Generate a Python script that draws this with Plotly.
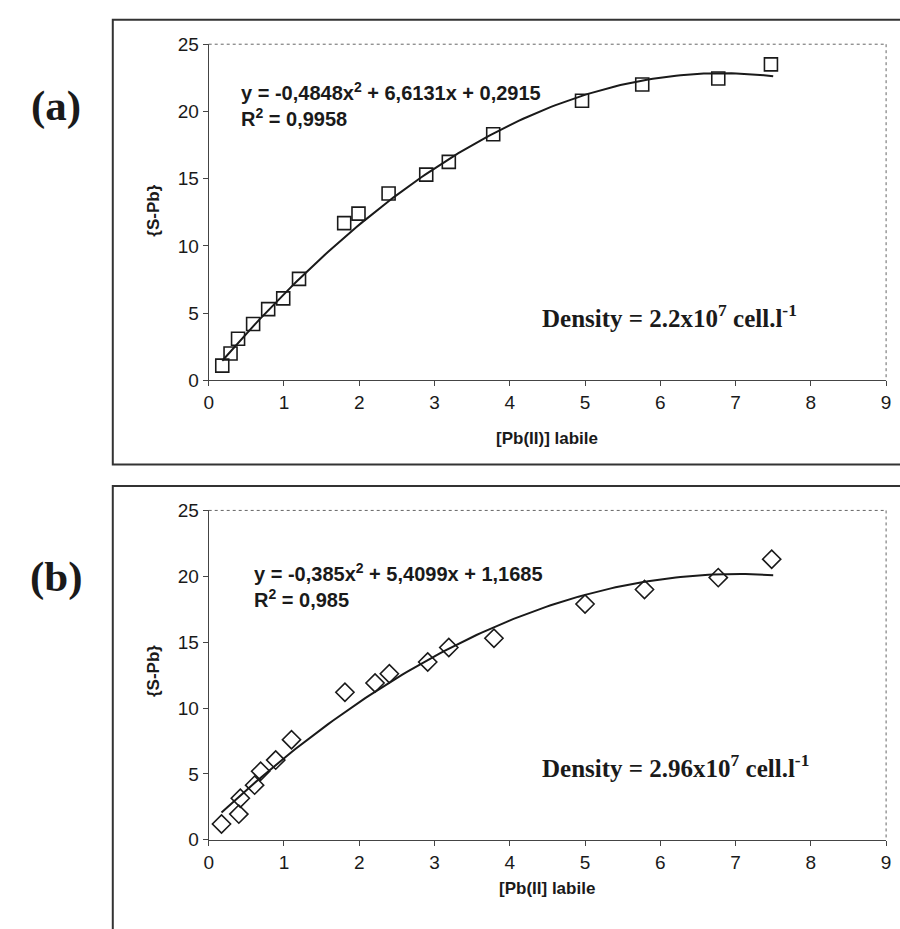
import plotly.graph_objects as go
import numpy as np

# ---------------- data ----------------
xa = [0.18, 0.29, 0.39, 0.59, 0.79, 0.99, 1.20, 1.80, 1.99, 2.39, 2.89, 3.19, 3.78, 4.96, 5.76, 6.77, 7.47]
ya = [1.1, 2.0, 3.1, 4.2, 5.3, 6.1, 7.55, 11.7, 12.4, 13.9, 15.3, 16.25, 18.3, 20.8, 22.0, 22.45, 23.5]
coef_a = [-0.4848, 6.6131, 0.2915]

xb = [0.17, 0.40, 0.42, 0.61, 0.69, 0.89, 1.10, 1.81, 2.21, 2.40, 2.91, 3.19, 3.79, 5.0, 5.79, 6.77, 7.48]
yb = [1.2, 1.95, 3.15, 4.15, 5.2, 6.05, 7.6, 11.2, 11.9, 12.6, 13.5, 14.6, 15.3, 17.9, 19.0, 19.9, 21.3]
coef_b = [-0.385, 5.4099, 1.1685]

x_ticks = [0, 1, 2, 3, 4, 5, 6, 7, 8, 9]
y_ticks = [0, 5, 10, 15, 20, 25]

eq_a = "y = -0,4848x<sup>2</sup> + 6,6131x + 0,2915<br>R<sup>2</sup> = 0,9958"
eq_b = "y = -0,385x<sup>2</sup> + 5,4099x + 1,1685<br>R<sup>2</sup> = 0,985"
dens_a = "Density = 2.2x10<sup>7</sup> cell.l<sup>-1</sup>"
dens_b = "Density = 2.96x10<sup>7</sup> cell.l<sup>-1</sup>"
xtitle_a = "[Pb(II)] labile"
xtitle_b = "[Pb(II] labile"
ytitle = "{S-Pb}"

# ---------------- figure ----------------
W, H = 900, 929
def px(x):
    return x / W
def py(y):
    return 1 - y / H

fig = go.Figure()

ink = "#1a1a1a"

def fit_curve(coef, x0, x1):
    xs = np.linspace(x0, x1, 120)
    return xs, np.polyval(coef, xs)

cxa, cya = fit_curve(coef_a, min(xa), 7.5)
cxb, cyb = fit_curve(coef_b, min(xb), 7.5)

fig.add_trace(go.Scatter(x=cxa, y=cya, mode="lines", line=dict(color=ink, width=2),
                         xaxis="x", yaxis="y", hoverinfo="skip"))
fig.add_trace(go.Scatter(x=xa, y=ya, mode="markers",
                         marker=dict(symbol="square-open", size=13, color=ink, line=dict(width=1.6, color=ink)),
                         xaxis="x", yaxis="y"))
fig.add_trace(go.Scatter(x=cxb, y=cyb, mode="lines", line=dict(color=ink, width=2),
                         xaxis="x2", yaxis="y2", hoverinfo="skip"))
fig.add_trace(go.Scatter(x=xb, y=yb, mode="markers",
                         marker=dict(symbol="diamond-open", size=14, color=ink, line=dict(width=1.6, color=ink)),
                         xaxis="x2", yaxis="y2"))

left, right = 206, 891
top_a, bot_a = 35, 379
top_b, bot_b = 512, 849

axis_common = dict(
    showgrid=False, zeroline=False, showline=True, linecolor="#444", linewidth=1,
    ticks="outside", ticklen=5, tickcolor="#444", tickwidth=1,
    tickfont=dict(family="Liberation Sans, Arial", size=19, color=ink),
)

fig.update_layout(
    width=W, height=H, margin=dict(l=0, r=0, t=0, b=0),
    paper_bgcolor="white", plot_bgcolor="white", showlegend=False,
    xaxis=dict(domain=[px(left), px(right)], range=[0, 9], tickvals=x_ticks, anchor="y", **axis_common),
    yaxis=dict(domain=[py(bot_a), py(top_a)], range=[0, 25], tickvals=y_ticks, anchor="x", **axis_common),
    xaxis2=dict(domain=[px(left), px(right)], range=[0, 9], tickvals=x_ticks, anchor="y2", **axis_common),
    yaxis2=dict(domain=[py(bot_b), py(top_b)], range=[0, 25], tickvals=y_ticks, anchor="x2", **axis_common),
)

shapes = []
# dotted top/right borders of the plot areas
for t, b in [(top_a, bot_a), (top_b, bot_b)]:
    shapes.append(dict(type="line", xref="paper", yref="paper", x0=px(left), x1=px(right), y0=py(t), y1=py(t),
                       line=dict(color="#666", width=1, dash="dot")))
    shapes.append(dict(type="line", xref="paper", yref="paper", x0=px(right), x1=px(right), y0=py(t), y1=py(b),
                       line=dict(color="#666", width=1, dash="dot")))
# outer frames (they run off the right / bottom edge of the page)
shapes.append(dict(type="rect", xref="paper", yref="paper", x0=px(109), x1=px(960), y0=py(465), y1=py(10),
                   line=dict(color="#333", width=2)))
shapes.append(dict(type="rect", xref="paper", yref="paper", x0=px(109), x1=px(960), y0=py(1000), y1=py(487),
                   line=dict(color="#333", width=2)))
fig.update_layout(shapes=shapes)

ann = []
def A(text, x, y, size, family, xanchor="left", bold=True, textangle=0, yanchor="middle"):
    ann.append(dict(text=f"<b>{text}</b>" if bold else text, x=px(x), y=py(y), xref="paper", yref="paper",
                    showarrow=False, xanchor=xanchor, yanchor=yanchor, align="left", textangle=textangle,
                    font=dict(family=family, size=size, color=ink)))

A("(a)", 52, 98, 43, "Liberation Serif, Times New Roman", xanchor="center")
A("(b)", 52, 580, 43, "Liberation Serif, Times New Roman", xanchor="center")
A(eq_a, 237, 97, 20, "Liberation Sans, Arial")
A(eq_b, 250, 589, 20, "Liberation Sans, Arial")
A(dens_a, 541, 313, 25, "Liberation Serif, Times New Roman")
A(dens_b, 541, 773, 25, "Liberation Serif, Times New Roman")
A(xtitle_a, (left + right) / 2, 438, 17, "Liberation Sans, Arial", xanchor="center")
A(xtitle_b, (left + right) / 2, 899, 17, "Liberation Sans, Arial", xanchor="center")
A(ytitle, 150, 205, 17, "Liberation Sans, Arial", xanchor="center", textangle=-90)
A(ytitle, 150, 676, 17, "Liberation Sans, Arial", xanchor="center", textangle=-90)
fig.update_layout(annotations=ann)

fig.write_html("out.html", config={"displayModeBar": False},
               post_script="document.body.style.margin='0px';document.body.style.overflow='hidden';")
